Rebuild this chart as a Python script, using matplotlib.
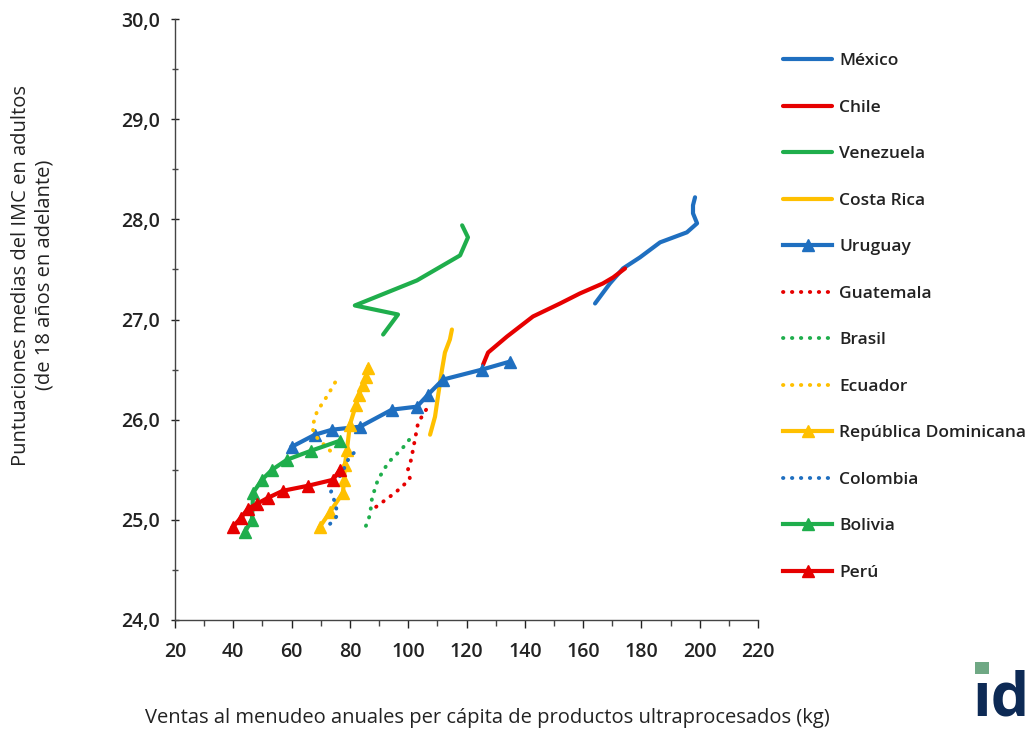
import matplotlib
matplotlib.use('Agg')
import matplotlib.pyplot as plt
from matplotlib.patches import Rectangle

plt.rcParams['font.family'] = ['Open Sans', 'DejaVu Sans']

# colours (Excel style)
BLUE = '#1f6fc0'
RED = '#e60000'
GREEN = '#1fae4c'
YELLOW = '#ffc000'

# data: (ventas kg, IMC)
mexico_x = [164.1, 169.2, 173.7, 179.5, 186.4, 195.6, 199.1, 197.7, 197.7, 198.4]
mexico_y = [27.16, 27.36, 27.51, 27.62, 27.77, 27.87, 27.96, 28.06, 28.14, 28.22]

chile_x = [125.7, 127.4, 133.9, 142.8, 152.1, 158.9, 166.8, 170.3, 174.4]
chile_y = [26.55, 26.67, 26.83, 27.03, 27.16, 27.26, 27.36, 27.42, 27.51]

venezuela_x = [91.4, 96.5, 81.7, 103.0, 117.8, 120.5, 118.5]
venezuela_y = [26.85, 27.05, 27.14, 27.39, 27.64, 27.82, 27.94]

costarica_x = [107.5, 109.2, 110.2, 111.6, 112.6, 114.3, 115.0]
costarica_y = [25.85, 26.03, 26.23, 26.50, 26.67, 26.80, 26.90]

uruguay_x = [60.1, 68.0, 73.9, 83.5, 94.4, 103.0, 106.8, 111.9, 125.3, 134.9]
uruguay_y = [25.73, 25.85, 25.90, 25.93, 26.10, 26.13, 26.25, 26.40, 26.50, 26.58]

guatemala_x = [89.0, 95.5, 98.2, 100.6, 99.9, 101.0, 102.3, 103.4, 106.8]
guatemala_y = [25.13, 25.27, 25.34, 25.41, 25.50, 25.60, 25.80, 25.97, 26.13]

brasil_x = [85.5, 86.9, 87.6, 89.6, 93.1, 97.9, 102.0]
brasil_y = [24.94, 25.05, 25.22, 25.40, 25.57, 25.71, 25.86]

ecuador_x = [73.2, 68.4, 67.0, 68.7, 72.5, 75.9]
ecuador_y = [25.69, 25.83, 25.92, 26.08, 26.25, 26.42]

rdom_x = [69.7, 73.2, 77.6, 78.0, 78.3, 79.0, 80.0, 82.1, 83.1, 84.5, 85.5, 86.2]
rdom_y = [24.93, 25.08, 25.27, 25.40, 25.55, 25.70, 25.95, 26.15, 26.25, 26.35, 26.43, 26.52]

colombia_x = [73.2, 75.6, 75.2, 73.5, 75.9, 78.3, 79.7, 82.1]
colombia_y = [24.96, 25.04, 25.15, 25.28, 25.40, 25.53, 25.62, 25.69]

bolivia_x = [44.0, 46.4, 46.8, 49.8, 53.3, 58.4, 66.7, 76.6]
bolivia_y = [24.88, 25.00, 25.27, 25.40, 25.50, 25.60, 25.69, 25.79]

peru_x = [39.9, 42.6, 45.0, 48.1, 51.9, 57.0, 65.6, 74.2, 76.6]
peru_y = [24.93, 25.02, 25.11, 25.16, 25.22, 25.29, 25.34, 25.40, 25.50]

x_ticks = [20, 40, 60, 80, 100, 120, 140, 160, 180, 200, 220]
y_ticks = [24, 25, 26, 27, 28, 29, 30]
y_ticklabels = ['24,0', '25,0', '26,0', '27,0', '28,0', '29,0', '30,0']

fig = plt.figure(figsize=(10.35, 7.31), dpi=100)
ax = fig.add_axes([175/1035, 1-620/731, 583/1035, 601/731])

LW = 3
DOT = (0, (0.1, 2.2))
MS = 9

ax.plot(mexico_x, mexico_y, color=BLUE, lw=LW, label='México', solid_capstyle='round')
ax.plot(chile_x, chile_y, color=RED, lw=LW, label='Chile', solid_capstyle='round')
ax.plot(venezuela_x, venezuela_y, color=GREEN, lw=LW, label='Venezuela', solid_capstyle='round')
ax.plot(costarica_x, costarica_y, color=YELLOW, lw=LW, label='Costa Rica', solid_capstyle='round')
ax.plot(uruguay_x, uruguay_y, color=BLUE, lw=LW, marker='^', ms=MS, label='Uruguay')
ax.plot(guatemala_x, guatemala_y, color=RED, lw=2.8, ls=DOT, dash_capstyle='round', label='Guatemala')
ax.plot(brasil_x, brasil_y, color=GREEN, lw=2.8, ls=DOT, dash_capstyle='round', label='Brasil')
ax.plot(ecuador_x, ecuador_y, color=YELLOW, lw=2.8, ls=DOT, dash_capstyle='round', label='Ecuador')
ax.plot(rdom_x, rdom_y, color=YELLOW, lw=LW, marker='^', ms=MS, label='República Dominicana')
ax.plot(colombia_x, colombia_y, color=BLUE, lw=2.8, ls=DOT, dash_capstyle='round', label='Colombia')
ax.plot(bolivia_x, bolivia_y, color=GREEN, lw=LW, marker='^', ms=MS, label='Bolivia')
ax.plot(peru_x, peru_y, color=RED, lw=LW, marker='^', ms=MS, label='Perú')

ax.set_xlim(20, 220)
ax.set_ylim(24, 30)
ax.set_xticks(x_ticks)
ax.set_yticks(y_ticks)
ax.set_yticklabels(y_ticklabels)
ax.set_yticks([24.5, 25.5, 26.5, 27.5, 28.5, 29.5], minor=True)
ax.set_xticks([30, 50, 70, 90, 110, 130, 150, 170, 190, 210], minor=True)
for s in ['top', 'right']:
    ax.spines[s].set_visible(False)
for s in ['left', 'bottom']:
    ax.spines[s].set_color('#444444')
    ax.spines[s].set_linewidth(1)
ax.tick_params(axis='both', which='both', direction='out', color='#444444', width=1)
ax.tick_params(axis='both', which='major', length=6, labelsize=14, colors='#222222')
ax.tick_params(axis='both', which='minor', length=4)
ax.tick_params(axis='y', which='both', direction='inout', pad=8)
ax.tick_params(axis='x', which='major', pad=10)
for lab in ax.get_xticklabels() + ax.get_yticklabels():
    lab.set_fontweight('semibold')

fig.text(33/1035, 1-275/731, 'Puntuaciones medias del IMC en adultos\n(de 18 años en adelante)',
         rotation=90, ha='center', va='center', fontsize=14.5, color='#222222', linespacing=1.2)
fig.text(487/1035, 1-718/731, 'Ventas al menudeo anuales per cápita de productos ultraprocesados (kg)',
         ha='center', va='center', fontsize=14.5, color='#222222')

fig.legend(loc='upper left', bbox_to_anchor=(776/1035, 1-46/731), frameon=False,
           prop={'size': 12.5, 'weight': 'semibold'}, handlelength=2.85, handletextpad=0.4,
           labelspacing=1.75, numpoints=1, borderaxespad=0, labelcolor='#222222')

# logo fragment in the corner: dotless i + d, with the green square as the dot
fig.text(972/1035, 1/731, '\u0131d', fontsize=44, fontweight='bold', color='#0d2a55',
         ha='left', va='bottom')
fig.patches.append(Rectangle((975/1035, 1-674/731), 14/1035, 12/731, transform=fig.transFigure,
                             facecolor='#6fa884', edgecolor='none', zorder=10))

fig.savefig('out.png', dpi=100)
